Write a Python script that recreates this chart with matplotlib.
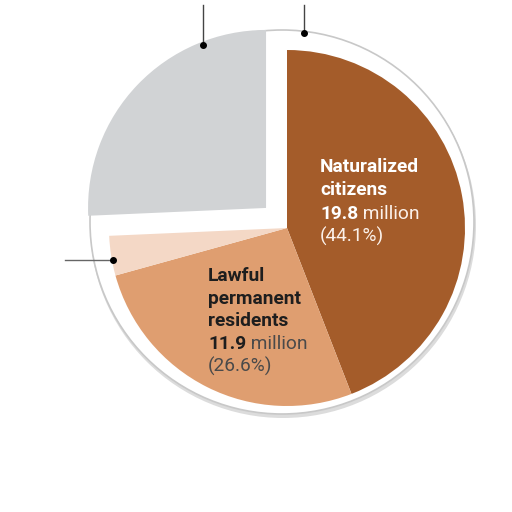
import numpy as np
import matplotlib
matplotlib.use('Agg')
import matplotlib.pyplot as plt
from matplotlib.patches import Circle

# Slice shares (percent), drawn clockwise from 12 o'clock
labels = ['Naturalized citizens', 'Lawful permanent residents',
          'Lawful temporary residents', 'Unauthorized immigrants']
shares = [44.1, 26.6, 3.6, 25.7]
millions = [19.8, 11.9, None, None]
colors = ['#a45c2a', '#df9e70', '#f4d8c6', '#d1d3d5']

plt.rcParams['font.family'] = ['Roboto', 'DejaVu Sans']

fig = plt.figure(figsize=(5.12, 5.12), dpi=100)
ax = fig.add_axes([0, 0, 1, 1])

H = 512
pie_c = (287, H - 228)
ring_c = (282, H - 222)

# outer ring with a soft shadow
shadow = Circle((ring_c[0] + 1, ring_c[1] - 3), 193, facecolor='#dcdcdc',
                edgecolor='none', zorder=1)
ax.add_patch(shadow)
ring = Circle(ring_c, 192, facecolor='white', edgecolor='#c8c8c8', lw=1.2, zorder=2)
ax.add_patch(ring)

# explode is in data units here (pixels)
wedges, _ = ax.pie(shares, colors=colors, startangle=90, counterclock=False,
                   center=pie_c, radius=178, explode=[0, 0, 0, 29],
                   wedgeprops=dict(linewidth=0), frame=True)
for w in wedges:
    w.set_zorder(3)
clip = Circle(ring_c, 191, transform=ax.transData)
wedges[3].set_clip_path(clip)

ax.set_xlim(0, 512)
ax.set_ylim(0, 512)
ax.set_aspect('equal')
ax.axis('off')

# leader lines (labels are outside the crop)
ax.plot([203, 203], [H - 5, H - 45], color='#444', lw=1, zorder=4)
ax.plot([203], [H - 45], 'o', color='black', ms=4, zorder=4)
ax.plot([304, 304], [H - 5, H - 33], color='#444', lw=1, zorder=4)
ax.plot([304], [H - 33], 'o', color='black', ms=4, zorder=4)
ax.plot([65, 113], [H - 260, H - 260], color='#666', lw=1, zorder=4)
ax.plot([113], [H - 260], 'o', color='black', ms=4, zorder=4)

fs = 13.8


def label_block(x, y0, dy, name_lines, value, pct, color, pct_color):
    y = y0
    for line in name_lines:
        ax.text(x, H - y, line, color=color, fontsize=fs, fontweight='bold',
                va='center', ha='left', zorder=5)
        y += dy
    t = ax.text(x, H - y, f'{value}', color=color, fontsize=fs, fontweight='bold',
                va='center', ha='left', zorder=5)
    ax.annotate(' million', xy=(1, 0), xycoords=t, va='bottom', ha='left',
                color=pct_color, fontsize=fs, zorder=5)
    y += dy
    ax.text(x, H - y, f'({pct}%)', color=pct_color, fontsize=fs,
            va='center', ha='left', zorder=5)


label_block(320, 167, 23.3, ['Naturalized', 'citizens'], millions[0], shares[0],
            'white', '#fbf1ea')
label_block(208, 276, 22.7, ['Lawful', 'permanent', 'residents'], millions[1], shares[1],
            '#1e1e1e', '#4a4a4a')

fig.savefig('out.png', dpi=100)
